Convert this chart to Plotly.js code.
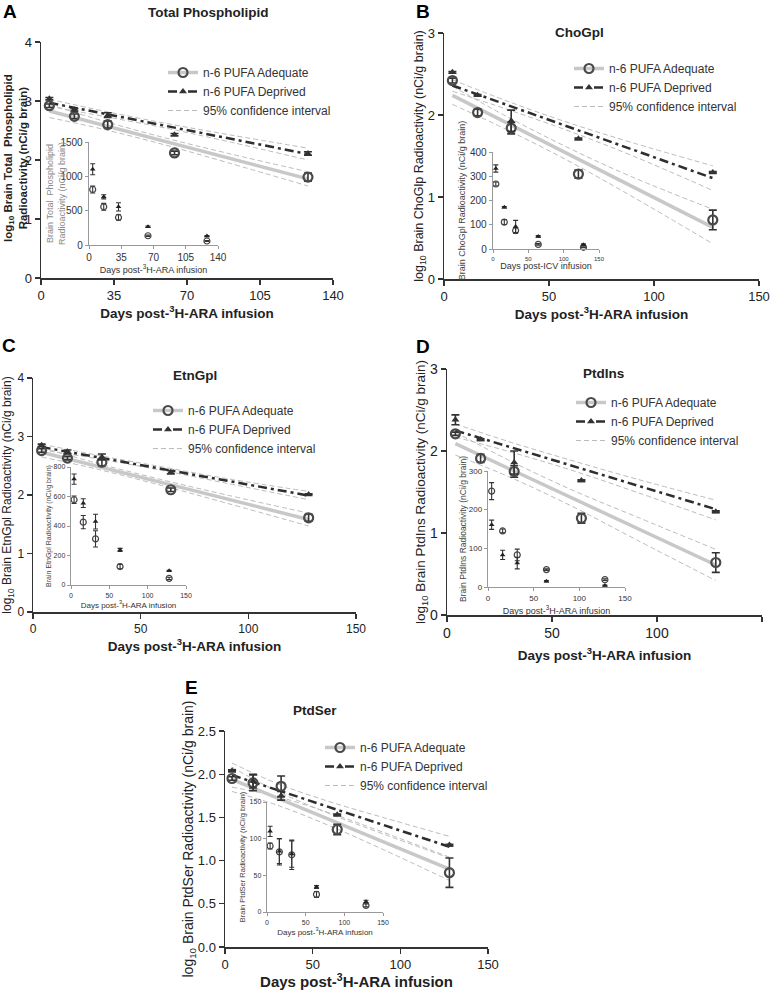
<!DOCTYPE html>
<html><head><meta charset="utf-8">
<script src="https://cdn.plot.ly/plotly-3.0.1.min.js"></script>
<style>html,body{margin:0;padding:0;background:#fff}#chart{width:772px;height:990px}</style>
</head><body><div id="chart"></div>
<script>
// ---------- data ----------
const days = [4, 16, 32, 64, 128];
const fitDays = [4, 128];
const ciDays = [4, 30, 60, 90, 128];
const seriesNames = ["n-6 PUFA Adequate", "n-6 PUFA Deprived", "95% confidence interval"];
const panelLetters = ["A", "B", "C", "D", "E"];
const panelTitles = ["Total Phospholipid", "ChoGpl", "EtnGpl", "PtdIns", "PtdSer"];

// Panel A - Total phospholipid
const aAdeq = [2.92, 2.74, 2.60, 2.12, 1.71];
const aAdeqErr = [0.03, 0.04, 0.06, 0.03, 0.07];
const aDep = [3.04, 2.85, 2.76, 2.43, 2.11];
const aDepErr = [0.02, 0.02, 0.04, 0.02, 0.03];
const aAdeqFit = [2.83, 1.68];
const aDepFit = [2.97, 2.10];
const aAdeqCiUp = [2.94, 2.66, 2.37, 2.11, 1.80];
const aAdeqCiLo = [2.72, 2.52, 2.25, 1.95, 1.56];
const aDepCiUp = [3.03, 2.83, 2.62, 2.43, 2.20];
const aDepCiLo = [2.91, 2.74, 2.54, 2.31, 2.00];
const aInAdeq = [808, 556, 401, 135, 58];
const aInAdeqErr = [50, 50, 40, 10, 8];
const aInDep = [1103, 701, 556, 266, 130];
const aInDepErr = [80, 30, 60, 10, 8];

// Panel B - ChoGpl
const bAdeq = [2.42, 2.03, 1.84, 1.28, 0.72];
const bAdeqErr = [0.03, 0.04, 0.07, 0.05, 0.12];
const bDep = [2.52, 2.24, 1.93, 1.71, 1.30];
const bDepErr = [0.01, 0.01, 0.13, 0.01, 0.01];
const bAdeqFit = [2.24, 0.63];
const bDepFit = [2.36, 1.23];
const bAdeqCiUp = [2.35, 1.98, 1.59, 1.24, 0.85];
const bAdeqCiLo = [2.13, 1.82, 1.43, 1.00, 0.43];
const bDepCiUp = [2.43, 2.17, 1.90, 1.66, 1.38];
const bDepCiLo = [2.29, 2.07, 1.80, 1.50, 1.08];
const bInAdeq = [268, 111, 76, 19, 7];
const bInAdeqErr = [8, 10, 12, 3, 2];
const bInDep = [332, 172, 93, 52, 18];
const bInDepErr = [15, 3, 25, 3, 3];

// Panel C - EtnGpl
const cAdeq = [2.76, 2.63, 2.56, 2.09, 1.61];
const cAdeqErr = [0.03, 0.03, 0.06, 0.03, 0.06];
const cDep = [2.85, 2.74, 2.65, 2.39, 2.01];
const cDepErr = [0.02, 0.03, 0.05, 0.03, 0.01];
const cAdeqFit = [2.73, 1.58];
const cDepFit = [2.82, 1.99];
const cAdeqCiUp = [2.81, 2.54, 2.26, 2.00, 1.69];
const cAdeqCiLo = [2.65, 2.44, 2.16, 1.86, 1.47];
const cDepCiUp = [2.87, 2.68, 2.48, 2.28, 2.06];
const cDepCiLo = [2.77, 2.62, 2.42, 2.20, 1.92];
const cInAdeq = [578, 426, 313, 125, 45];
const cInAdeqErr = [25, 45, 55, 15, 8];
const cInDep = [718, 555, 430, 238, 97];
const cInDepErr = [35, 30, 50, 10, 3];

// Panel D - PtdIns
const dAdeq = [2.21, 1.91, 1.75, 1.18, 0.64];
const dAdeqErr = [0.02, 0.05, 0.07, 0.06, 0.12];
const dDep = [2.38, 2.14, 1.86, 1.64, 1.26];
const dDepErr = [0.06, 0.01, 0.14, 0.01, 0.01];
const dAdeqFit = [2.09, 0.61];
const dDepFit = [2.25, 1.29];
const dAdeqCiUp = [2.23, 1.88, 1.52, 1.20, 0.80];
const dAdeqCiLo = [1.95, 1.68, 1.32, 0.92, 0.42];
const dDepCiUp = [2.33, 2.11, 1.88, 1.66, 1.40];
const dDepCiLo = [2.17, 1.99, 1.76, 1.50, 1.16];
const dInAdeq = [248, 145, 83, 45, 19];
const dInAdeqErr = [22, 5, 15, 2, 2];
const dInDep = [161, 83, 62, 15, 4];
const dInDepErr = [12, 12, 15, 2, 1];

// Panel E - PtdSer
const eAdeq = [1.95, 1.90, 1.86, 1.36, 0.86];
const eAdeqErr = [0.02, 0.09, 0.12, 0.06, 0.17];
const eDep = [2.04, 1.92, 1.75, 1.53, 1.18];
const eDepErr = [0.01, 0.08, 0.05, 0.01, 0.01];
const eAdeqFit = [1.94, 0.90];
const eDepFit = [1.99, 1.16];
const eAdeqCiUp = [2.08, 1.80, 1.54, 1.31, 1.03];
const eAdeqCiLo = [1.80, 1.64, 1.40, 1.13, 0.77];
const eDepCiUp = [2.13, 1.89, 1.68, 1.50, 1.28];
const eDepCiLo = [1.85, 1.74, 1.55, 1.33, 1.04];
const eInAdeq = [90, 82, 78, 24, 9];
const eInAdeqErr = [4, 18, 20, 4, 2];
const eInDep = [110, 83, 79, 34, 14];
const eInDepErr = [7, 17, 18, 2, 2];

// ---------- layout helpers ----------
const W = 772, H = 990;
const fx = v => v / W;
const fy = v => 1 - v / H;
const ARIAL = "Liberation Sans, Arial, sans-serif";
const NARROW = "Liberation Sans Narrow, Liberation Sans, Arial, sans-serif";

// ytitle / iytitle given either as axis title text, or (two-line ones) as rotated annotations via yAnn / iyAnn
const panels = [
  {main:[41,333,42,278], inset:[89,218,142,245], xr:[0,140], xt:[0,35,70,105,140], yr:[0,4], yt:[0,1,2,3,4], yfmt:"",
   ytitle:"", yAnn:{text:"<b>log<sub>10</sub> Brain Total  Phospholipid<br>Radioactivity (nCi/g brain)</b>", x:15, y:158, size:11.5, color:"#222"},
   yts:13, ystand:0, xstand:2, xts:13.5, tickfam:NARROW, tfs:13,
   iyr:[0,1500], iyt:[0,500,1000,1500], ixt:[0,35,70,105,140], ixr:[0,140], iytitle:"",
   iyAnn:{text:"Brain Total  Phospholipid<br>Radioactivity (nCi/g brain)", x:56, y:193, size:9, color:"#8a8a8a"},
   iytc:"#8a8a8a", ifs:10, ixfs:10, iyts:9, ixts:9, ixtitle:"Days post-<sup>3</sup>H-ARA infusion", iystand:0, ixstand:1,
   leg:[163,58], title:[208,13], letter:[10,12],
   d:[aAdeq,aAdeqErr,aDep,aDepErr,aAdeqFit,aDepFit,aAdeqCiUp,aAdeqCiLo,aDepCiUp,aDepCiLo,aInAdeq,aInAdeqErr,aInDep,aInDepErr]},
  {main:[444,759,33,279], inset:[493,599,152,249], xr:[0,150], xt:[0,50,100,150], yr:[0,3], yt:[0,1,2,3], yfmt:"",
   ytitle:"log<sub>10</sub> Brain ChoGlp Radioactivity (nCi/g brain)", yts:12.5, ystand:0, xstand:5, xts:13.5, tickfam:ARIAL, tfs:13,
   iyr:[0,400], iyt:[0,100,200,300,400], ixt:[0,50,100,150], ixr:[0,150], iytitle:"Brain ChoGpl Radioactivity (nCi/g brain)", iytc:"#444", ifs:10, ixfs:6, iyts:9, ixts:9, ixtitle:"Days post-ICV infusion", iystand:3, ixstand:1,
   leg:[569,54], title:[579,33], letter:[423,12],
   d:[bAdeq,bAdeqErr,bDep,bDepErr,bAdeqFit,bDepFit,bAdeqCiUp,bAdeqCiLo,bDepCiUp,bDepCiLo,bInAdeq,bInAdeqErr,bInDep,bInDepErr]},
  {main:[33,356,378,612], inset:[71,186,467,585], xr:[0,150], xt:[0,50,100,150], yr:[0,4], yt:[0,1,2,3,4], yfmt:"",
   ytitle:"log<sub>10</sub> Brain EtnGpl Radioactivity (nCi/g brain)", yts:12, ystand:6, xstand:0, xts:13.5, tickfam:NARROW, tfs:12,
   iyr:[0,800], iyt:[0,200,400,600,800], ixt:[0,50,100,150], ixr:[0,150], iytitle:"Brain EtnGpl Radioactivity (nCi/g brain)", iytc:"#444", ifs:7, ixfs:7, iyts:7, ixts:8, ixtitle:"Days post-<sup>3</sup>H-ARA infusion", iystand:1, ixstand:4,
   leg:[148,396], title:[195,375], letter:[9,345],
   d:[cAdeq,cAdeqErr,cDep,cDepErr,cAdeqFit,cDepFit,cAdeqCiUp,cAdeqCiLo,cDepCiUp,cDepCiLo,cInAdeq,cInAdeqErr,cInDep,cInDepErr]},
  {main:[447,762,369,615], inset:[488,625,471,587], xr:[0,150], xt:[0,50,100,150], yr:[0,3], yt:[0,1,2,3], yfmt:"",
   ytitle:"log<sub>10</sub> Brain PtdIns Radioactivity (nCi/g brain)", yts:13.5, ystand:0, xstand:10, xts:13.5, tickfam:ARIAL, tfs:14,
   iyr:[0,300], iyt:[0,100,200,300], ixt:[0,50,100,150], ixr:[0,150], iytitle:"Brain PtdIns Radioactivity (nCi/g brain)", iytc:"#444", ifs:8, ixfs:8, iyts:8.5, ixts:9, ixtitle:"Days post-<sup>3</sup>H-ARA infusion", iystand:0, ixstand:5,
   leg:[571,388], title:[603,373], letter:[423,346],
   d:[dAdeq,dAdeqErr,dDep,dDepErr,dAdeqFit,dDepFit,dAdeqCiUp,dAdeqCiLo,dDepCiUp,dDepCiLo,dInAdeq,dInAdeqErr,dInDep,dInDepErr]},
  {main:[225,488,731,947], inset:[267,383,802,912], xr:[0,150], xt:[0,50,100,150], yr:[0,2.5], yt:[0,0.5,1,1.5,2,2.5], yfmt:".1f",
   ytitle:"log<sub>10</sub> Brain PtdSer Radioactivity (nCi/g brain)", yts:14, ystand:0, xstand:10, xts:15, tickfam:ARIAL, tfs:13,
   iyr:[0,150], iyt:[0,50,100,150], ixt:[0,50,100,150], ixr:[0,150], iytitle:"Brain PtdSer Radioactivity (nCi/g brain)", iytc:"#444", ifs:7, ixfs:7, iyts:7.5, ixts:8, ixtitle:"Days post-<sup>3</sup>H-ARA infusion", iystand:3, ixstand:4,
   leg:[320,733], title:[315,710], letter:[191,687],
   d:[eAdeq,eAdeqErr,eDep,eDepErr,eAdeqFit,eDepFit,eAdeqCiUp,eAdeqCiLo,eDepCiUp,eDepCiLo,eInAdeq,eInAdeqErr,eInDep,eInDepErr]}
];

const ADEQ_LINE = "#c8c8c8", DEP_LINE = "#2e2e2e", CI_LINE = "#bcbcbc", MARK = "#4a4a4a";
const traces = [];
const layout = {
  width: W, height: H, margin: {l:0, r:0, t:0, b:0},
  paper_bgcolor: "#fff", plot_bgcolor: "rgba(0,0,0,0)",
  showlegend: true, annotations: [], font: {family: ARIAL, color: "#222"}
};

panels.forEach((p, i) => {
  const n = i + 1, m = i + 6;
  const xa = "x" + (n === 1 ? "" : n), ya = "y" + (n === 1 ? "" : n);
  const xi = "x" + m, yi = "y" + m;
  const legName = "legend" + (n === 1 ? "" : n);
  const [ad, adE, dp, dpE, adF, dpF, adU, adL, dpU, dpL, iad, iadE, idp, idpE] = p.d;

  const ci = {color: CI_LINE, width: 1, dash: "5px,3px", shape: "spline"};
  [adU, adL, dpU, dpL].forEach(arr => traces.push({
    type: "scatter", mode: "lines", x: ciDays, y: arr, xaxis: xa, yaxis: ya,
    line: ci, showlegend: false, hoverinfo: "skip"}));
  traces.push({type: "scatter", mode: "lines", x: fitDays, y: adF, xaxis: xa, yaxis: ya,
    line: {color: ADEQ_LINE, width: 3.5}, showlegend: false});
  traces.push({type: "scatter", mode: "lines", x: fitDays, y: dpF, xaxis: xa, yaxis: ya,
    line: {color: DEP_LINE, width: 2.5, dash: "9px,4px,3px,4px"}, showlegend: false});
  traces.push({type: "scatter", mode: "markers", x: days, y: ad, xaxis: xa, yaxis: ya, cliponaxis: false,
    marker: {symbol: "circle-open", size: 9, color: MARK, line: {width: 2.2, color: MARK}},
    error_y: {type: "data", array: adE, color: "#333", thickness: 1.6, width: 4}, showlegend: false});
  traces.push({type: "scatter", mode: "markers", x: days, y: dp, xaxis: xa, yaxis: ya, cliponaxis: false,
    marker: {symbol: "triangle-up", size: 7, color: "#333"},
    error_y: {type: "data", array: dpE, color: "#333", thickness: 1.6, width: 4}, showlegend: false});
  // legend entries (no data of their own)
  traces.push({type: "scatter", mode: "lines+markers", x: [null], y: [null], xaxis: xa, yaxis: ya, name: seriesNames[0], legend: legName,
    line: {color: ADEQ_LINE, width: 3.5}, marker: {symbol: "circle-open", size: 9, color: MARK, line: {width: 2.2, color: MARK}}});
  traces.push({type: "scatter", mode: "lines+markers", x: [null], y: [null], xaxis: xa, yaxis: ya, name: seriesNames[1], legend: legName,
    line: {color: DEP_LINE, width: 2.5, dash: "9px,4px,3px,4px"}, marker: {symbol: "triangle-up", size: 7, color: "#333"}});
  traces.push({type: "scatter", mode: "lines", x: [null], y: [null], xaxis: xa, yaxis: ya, name: seriesNames[2], legend: legName,
    line: {color: CI_LINE, width: 1, dash: "5px,3px"}});

  // inset
  traces.push({type: "scatter", mode: "markers", x: days, y: iad, xaxis: xi, yaxis: yi, cliponaxis: false,
    marker: {symbol: "circle-open", size: 6, color: "#444", line: {width: 1.2, color: "#444"}},
    error_y: {type: "data", array: iadE, color: "#333", thickness: 1.1, width: 2.5}, showlegend: false});
  traces.push({type: "scatter", mode: "markers", x: days, y: idp, xaxis: xi, yaxis: yi, cliponaxis: false,
    marker: {symbol: "triangle-up", size: 5, color: "#222"},
    error_y: {type: "data", array: idpE, color: "#333", thickness: 1.1, width: 2.5}, showlegend: false});

  const [l, r, t, b] = p.main;
  layout["xaxis" + (n === 1 ? "" : n)] = {
    domain: [fx(l), fx(r)], anchor: ya, range: p.xr, tickvals: p.xt, showgrid: false, zeroline: false,
    showline: true, linecolor: "#333", linewidth: 1.5, ticks: "outside", ticklen: 5, tickcolor: "#333", tickwidth: 1.2,
    tickfont: {family: p.tickfam, size: p.tfs, color: "#222"}, fixedrange: true,
    title: {text: "<b>Days post-<sup>3</sup>H-ARA infusion</b>", font: {family: ARIAL, size: p.xts, color: "#222"}, standoff: p.xstand}
  };
  const yAx = {
    domain: [fy(b), fy(t)], anchor: xa, range: p.yr, tickvals: p.yt, tickformat: p.yfmt, showgrid: false, zeroline: false,
    showline: true, linecolor: "#333", linewidth: 1.5, ticks: "outside", ticklen: 5, tickcolor: "#333", tickwidth: 1.2,
    tickfont: {family: p.tickfam, size: p.tfs, color: "#222"}, fixedrange: true
  };
  if (p.ytitle) yAx.title = {text: p.ytitle, font: {family: ARIAL, size: p.yts, color: "#222"}, standoff: p.ystand};
  layout["yaxis" + (n === 1 ? "" : n)] = yAx;

  const [il, ir, it, ib] = p.inset;
  layout["xaxis" + m] = {
    domain: [fx(il), fx(ir)], anchor: yi, range: p.ixr, tickvals: p.ixt, showgrid: false, zeroline: false,
    showline: true, linecolor: "#999", linewidth: 1.3, ticks: "outside", ticklen: 3, tickcolor: "#999",
    tickfont: {family: ARIAL, size: p.ixfs, color: "#333"}, fixedrange: true,
    title: {text: p.ixtitle, font: {family: ARIAL, size: p.ixts, color: "#333"}, standoff: p.ixstand}
  };
  const iyAx = {
    domain: [fy(ib), fy(it)], anchor: xi, range: p.iyr, tickvals: p.iyt, showgrid: false, zeroline: false,
    showline: true, linecolor: "#999", linewidth: 1.3, ticks: "outside", ticklen: 3, tickcolor: "#999",
    tickfont: {family: ARIAL, size: p.ifs, color: "#333"}, fixedrange: true
  };
  if (p.iytitle) iyAx.title = {text: p.iytitle, font: {family: ARIAL, size: p.iyts, color: p.iytc}, standoff: p.iystand};
  layout["yaxis" + m] = iyAx;

  [p.yAnn, p.iyAnn].forEach(a => {
    if (!a) return;
    layout.annotations.push({xref: "paper", yref: "paper", x: fx(a.x), y: fy(a.y), xanchor: "center", yanchor: "middle",
      textangle: -90, text: a.text, showarrow: false, font: {family: ARIAL, size: a.size, color: a.color}});
  });

  layout[legName] = {
    x: fx(p.leg[0]), y: fy(p.leg[1]), xanchor: "left", yanchor: "top", xref: "paper", yref: "paper",
    bgcolor: "rgba(0,0,0,0)", borderwidth: 0, tracegroupgap: 0, traceorder: "normal", itemwidth: 30,
    font: {family: ARIAL, size: 12, color: "#333"}
  };
  layout.annotations.push({xref: "paper", yref: "paper", x: fx(p.title[0]), y: fy(p.title[1]), xanchor: "center", yanchor: "middle",
    text: "<b>" + panelTitles[i] + "</b>", showarrow: false, font: {family: ARIAL, size: 13.5, color: "#222"}});
  layout.annotations.push({xref: "paper", yref: "paper", x: fx(p.letter[0]), y: fy(p.letter[1]), xanchor: "center", yanchor: "middle",
    text: "<b>" + panelLetters[i] + "</b>", showarrow: false, font: {family: ARIAL, size: 19, color: "#000"}});
});

Plotly.newPlot("chart", traces, layout, {staticPlot: true, displayModeBar: false});
</script></body></html>
